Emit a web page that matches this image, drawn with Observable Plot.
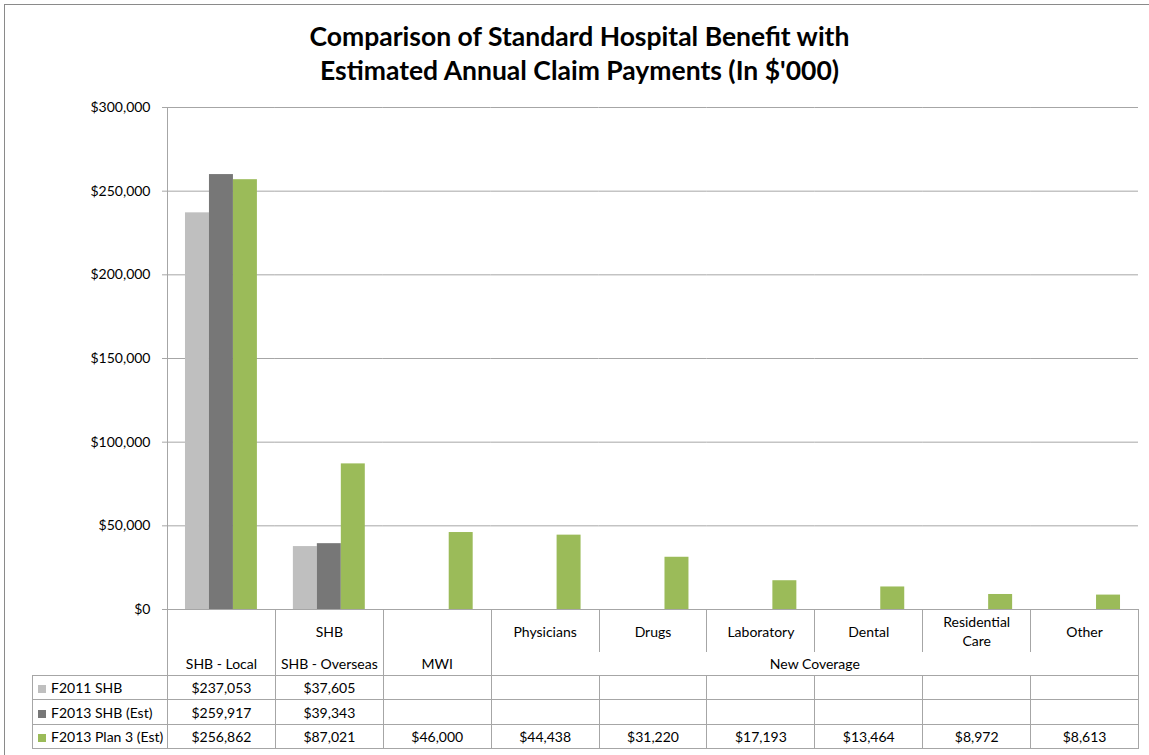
<!DOCTYPE html>
<html>
<head>
<meta charset="utf-8">
<script src="https://cdn.jsdelivr.net/npm/d3@7"></script>
<script src="https://cdn.jsdelivr.net/npm/@observablehq/plot@0.6"></script>
<style>
  html, body { margin: 0; padding: 0; background: #fff; }
  #chart { position: relative; width: 1149px; height: 755px; overflow: hidden; background: #fff; font-family: Lato, "Open Sans", sans-serif; color: #000; }
  #border { position: absolute; left: 4px; top: 4px; width: 1160px; height: 770px; border: 1px solid #8a8a8a; box-sizing: border-box; }
  #plot { position: absolute; left: 0; top: 0; }
  #title { position: absolute; left: 0; top: 19px; width: 1159px; text-align: center; font-weight: 700; font-size: 26.5px; line-height: 34px; }
  #tbl { position: absolute; left: 32px; top: 609px; border-collapse: collapse; table-layout: fixed; width: 1107px; font-size: 14px; }
  #tbl td { border: 1px solid #a6a6a6; padding: 0; text-align: center; vertical-align: middle; white-space: nowrap; overflow: hidden; }
  #tbl td.blank { border: none; }
  #tbl td.legend { text-align: left; padding-left: 5px; }
  .sw { display: inline-block; width: 8px; height: 8px; margin-right: 5px; vertical-align: 0px; }
  .stack { display: flex; flex-direction: column; height: 65px; }
  .stack .a { height: 42px; display: flex; align-items: center; justify-content: center; }
  .stack .b { height: 23px; display: flex; align-items: center; justify-content: center; }
</style>
</head>
<body>
<div id="chart">
  <div id="border"></div>
  <div id="plot"></div>
  <div id="title">Comparison of Standard Hospital Benefit with<br>Estimated Annual Claim Payments (In $'000)</div>
  <table id="tbl"></table>
</div>
<script>
// ---- data ----
const categories = ["SHB - Local", "SHB - Overseas", "MWI", "Physicians", "Drugs", "Laboratory", "Dental", "Residential Care", "Other"];
const innerLabels = ["", "SHB", "", "Physicians", "Drugs", "Laboratory", "Dental", "Residential<br>Care", "Other"];
const outerLabels = ["SHB - Local", "SHB - Overseas", "MWI", "New Coverage"];
const outerSpans = [1, 1, 1, 6];
const series = ["F2011 SHB", "F2013 SHB (Est)", "F2013 Plan 3 (Est)"];
const f2011 = [237053, 37605, null, null, null, null, null, null, null];
const f2013 = [259917, 39343, null, null, null, null, null, null, null];
const plan3 = [256862, 87021, 46000, 44438, 31220, 17193, 13464, 8972, 8613];
const colors = ["#BFBFBF", "#777777", "#9BBB59"];
const yTicks = [0, 50000, 100000, 150000, 200000, 250000, 300000];

const seriesValues = [f2011, f2013, plan3];
const data = [];
seriesValues.forEach((vals, si) => {
  vals.forEach((v, ci) => {
    if (v != null) data.push({category: categories[ci], series: series[si], value: v});
  });
});

const fmt = d3.format("$,");

// ---- plot ----
const plot = Plot.plot({
  width: 1149,
  height: 612,
  marginTop: 107,
  marginBottom: 3,
  marginLeft: 167,
  marginRight: 11,
  style: {fontFamily: "Lato, 'Open Sans', sans-serif", fontSize: "14px", color: "#000", background: "transparent", overflow: "visible"},
  fx: {domain: categories, padding: 0, round: false, axis: null, label: null},
  x: {domain: series, paddingInner: 0, paddingOuter: 0.75, round: false, axis: null, label: null},
  y: {domain: [0, 300000], label: null},
  color: {domain: series, range: colors},
  marks: [
    Plot.gridY(yTicks, {stroke: "#a6a6a6", strokeOpacity: 1}),
    Plot.axisY(yTicks, {tickFormat: fmt, tickSize: 5, tickPadding: 12, stroke: "#a6a6a6", fill: "#000", fontSize: 14, label: null}),
    Plot.barY(data, {fx: "category", x: "series", y: "value", fill: "series"}),
    Plot.frame({anchor: "left", facetAnchor: "left", stroke: "#a6a6a6", strokeOpacity: 1})
  ]
});
document.getElementById("plot").appendChild(plot);

// ---- table (category axis + data table) ----
let html = "<colgroup><col style='width:135px'>" + categories.map(() => "<col style='width:107.9px'>").join("") + "</colgroup>";
// header row A
html += "<tr style='height:42px'><td class='blank' rowspan='2'></td>";
for (let i = 0; i < 3; i++) {
  html += `<td rowspan='2' style='padding:0'><div class='stack'><div class='a'>${innerLabels[i]}</div><div class='b'>${outerLabels[i]}</div></div></td>`;
}
for (let i = 3; i < categories.length; i++) {
  html += `<td style='border-bottom:none;line-height:19px'>${innerLabels[i]}</td>`;
}
html += "</tr>";
// header row B
html += `<tr style='height:23px'><td colspan='${outerSpans[3]}' style='border-top:none'>${outerLabels[3]}</td></tr>`;
// data rows
const rowHeights = [24, 25, 24];
seriesValues.forEach((vals, si) => {
  html += `<tr style='height:${rowHeights[si]}px'><td class='legend'><span class='sw' style='background:${colors[si]}'></span>${series[si]}</td>`;
  vals.forEach(v => { html += `<td>${v == null ? "" : fmt(v)}</td>`; });
  html += "</tr>";
});
document.getElementById("tbl").innerHTML = html;
</script>
</body>
</html>
